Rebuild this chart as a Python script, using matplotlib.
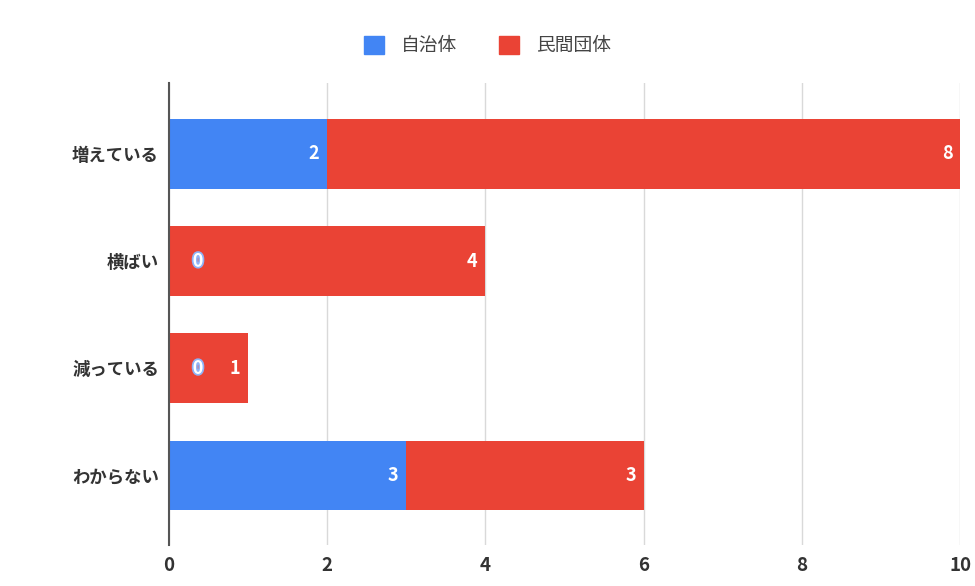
import matplotlib.pyplot as plt
import matplotlib.patheffects as pe
from matplotlib.patches import Patch

plt.rcParams['font.family'] = ['Noto Sans CJK JP', 'DejaVu Sans']

categories = ['増えている', '横ばい', '減っている', 'わからない']
series_names = ['自治体', '民間団体']
jichitai = [2, 0, 0, 3]
minkan = [8, 4, 1, 3]
colors = ['#4285F4', '#EA4335']

fig = plt.figure(figsize=(9.75, 5.86), dpi=100)
ax = fig.add_axes([0.173, 0.070, 0.812, 0.788])

y = list(range(len(categories)))
ax.barh(y, jichitai, height=0.65, color=colors[0], zorder=3)
ax.barh(y, minkan, left=jichitai, height=0.65, color=colors[1], zorder=3)

# value labels, white, right side of each segment
for i in y:
    a, b = jichitai[i], minkan[i]
    if a > 0:
        ax.text(a - 0.1, i, str(a), color='white', ha='right', va='center',
                fontsize=13, fontweight='bold', zorder=4)
    else:
        ax.text(0.37, i, str(a), color='white', ha='center', va='center',
                fontsize=13, fontweight='bold', zorder=4,
                path_effects=[pe.withStroke(linewidth=2.5, foreground='#8fb4f8')])
    ax.text(a + b - 0.1, i, str(b), color='white', ha='right', va='center',
            fontsize=13, fontweight='bold', zorder=4)

ax.set_xlim(0, 10)
ax.set_ylim(3.65, -0.66)
ax.set_xticks([0, 2, 4, 6, 8, 10])
ax.set_yticks(y)
ax.set_yticklabels(categories, fontsize=12.5, fontweight='bold', color='#333333')
ax.tick_params(axis='x', labelsize=13.5, colors='#333333', length=0, pad=8)
ax.tick_params(axis='y', length=0, pad=7)
for lbl in ax.get_xticklabels():
    lbl.set_fontweight('bold')

ax.grid(axis='x', color='#d9d9d9', linewidth=1, zorder=0)
for s in ['top', 'right', 'bottom']:
    ax.spines[s].set_visible(False)
ax.spines['left'].set_color('#555555')
ax.spines['left'].set_linewidth(1.5)
ax.spines['left'].set_zorder(5)

handles = [Patch(color=c, label=n) for c, n in zip(colors, series_names)]
fig.legend(handles=handles, loc='center', bbox_to_anchor=(0.5, 0.922), ncol=2,
           frameon=False, fontsize=13.5, handlelength=1.1, handleheight=1.1,
           columnspacing=2.2, handletextpad=0.9, labelcolor='#444444')

fig.savefig('out.png', dpi=100)
